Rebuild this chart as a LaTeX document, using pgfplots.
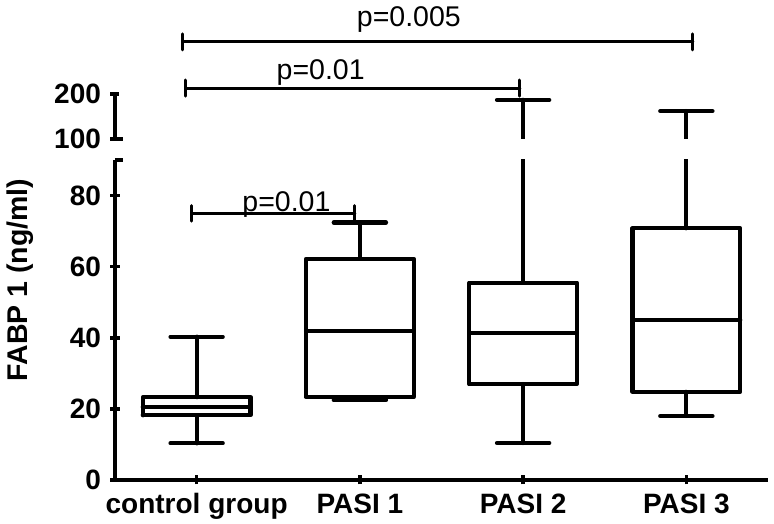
\documentclass[border=0pt]{standalone}
\usepackage{fontspec}
\setmainfont{Liberation Sans}
\usepackage{pgfplots}
\pgfplotsset{compat=1.18}

\pgfplotsset{
  fabp/.style={
    width=653pt, scale only axis,
    xmin=0.5, xmax=4.5,
    major tick length=9pt, tick align=outside,
    tick style={line width=3.5pt, black},
    /pgf/number format/assume math mode=true,
    ticklabel style={font=\fontsize{28}{30}\selectfont\bfseries},
    yticklabel style={xshift=-6pt},
  },
  nolinearrows/.style={
    axis line style={line width=3.5pt,-},
    every outer x axis line/.append style={-},
    every outer y axis line/.append style={-},
    every inner x axis line/.append style={-},
    every inner y axis line/.append style={-},
    x axis line style={-}, y axis line style={-},
  },
  bx/.style={black, line width=4.2pt, line cap=round, line join=round, solid, unbounded coords=jump},
  sig/.style={black, line width=3pt, line cap=round},
}
\tikzset{ptext/.style={anchor=base, font=\fontsize{28.5}{30}\selectfont}}

\begin{document}
\begin{tikzpicture}
\useasboundingbox (-115pt,-44pt) rectangle (659pt,480pt);

% lower part, 0 to 90
\begin{axis}[fabp, height=320pt,
    ymin=0, ymax=90,
    axis x line=bottom, axis y line=left, nolinearrows,
    xtick={1,2,3,4},
    xticklabels={control group, PASI 1, PASI 2, PASI 3},
    xticklabel style={inner sep=1pt, yshift=-8pt},
    ytick={0,20,40,60,80},
    extra y ticks={90}, extra y tick labels={},
    extra y tick style={tick align=inside, major tick length=8pt},
  ]
  % control group: whiskers 10.3 / 40.3, box 18.2 - 23.3, median 20.5
  \addplot[bx] coordinates {
    (0.67,18.2) (1.33,18.2) (1.33,23.3) (0.67,23.3) (0.67,18.2) (1,nan)
    (0.67,20.5) (1.33,20.5) (1,nan)
    (1,23.3) (1,40.3) (1,nan) (0.84,40.3) (1.16,40.3) (1,nan)
    (1,18.2) (1,10.3) (1,nan) (0.84,10.3) (1.16,10.3)
  };
  % PASI 1: whiskers 22.5 / 72.4, box 23.4 - 62.2, median 41.8
  \addplot[bx] coordinates {
    (1.67,23.4) (2.33,23.4) (2.33,62.2) (1.67,62.2) (1.67,23.4) (2,nan)
    (1.67,41.8) (2.33,41.8) (2,nan)
    (2,62.2) (2,72.4) (2,nan) (1.84,72.4) (2.16,72.4) (2,nan)
    (1.84,22.5) (2.16,22.5)
  };
  % PASI 2: whiskers 10.4 / 187, box 27.0 - 55.5, median 41.4
  \addplot[bx] coordinates {
    (2.67,27.0) (3.33,27.0) (3.33,55.5) (2.67,55.5) (2.67,27.0) (3,nan)
    (2.67,41.4) (3.33,41.4) (3,nan)
    (3,55.5) (3,187) (3,nan)
    (3,27.0) (3,10.4) (3,nan) (2.84,10.4) (3.16,10.4)
  };
  % PASI 3: whiskers 18.0 / 162, box 24.8 - 70.8, median 45.0
  \addplot[bx] coordinates {
    (3.67,24.8) (4.33,24.8) (4.33,70.8) (3.67,70.8) (3.67,24.8) (4,nan)
    (3.67,45.0) (4.33,45.0) (4,nan)
    (4,70.8) (4,162) (4,nan)
    (4,24.8) (4,18.0) (4,nan) (3.84,18.0) (4.16,18.0)
  };

  % control vs PASI 1
  \addplot[sig] coordinates {(0.97,75) (1.97,75)};
  \addplot[sig] coordinates {(0.97,72.8) (0.97,77.2)};
  \addplot[sig] coordinates {(1.97,72.8) (1.97,77.2)};
  \node[ptext] at (axis cs:1.55,75.6) {p=0.01};
\end{axis}

% upper part, 100 to 200
\begin{axis}[fabp, at={(0,341pt)}, height=45pt,
    ymin=100, ymax=200,
    axis x line=none, axis y line=left, nolinearrows,
    xtick=\empty,
    ytick={100,200},
    extra y ticks={100}, extra y tick labels={},
    extra y tick style={tick align=inside, major tick length=8pt},
  ]
  \addplot[bx] coordinates {(3,90) (3,187) (3,nan) (2.84,187) (3.16,187)};
  \addplot[bx] coordinates {(4,90) (4,162) (4,nan) (3.84,162) (4.16,162)};
\end{axis}

% significance brackets above
\begin{axis}[fabp, at={(0,341pt)}, height=45pt,
    ymin=100, ymax=200, hide axis, clip=false]
  \addplot[sig] coordinates {(0.914,315.6) (4.04,315.6)};
  \addplot[sig] coordinates {(0.914,297.8) (0.914,333.4)};
  \addplot[sig] coordinates {(4.04,297.8) (4.04,333.4)};
  \addplot[sig] coordinates {(0.933,213.3) (2.98,213.3)};
  \addplot[sig] coordinates {(0.933,195.5) (0.933,231.1)};
  \addplot[sig] coordinates {(2.98,195.5) (2.98,231.1)};
  \node[ptext] at (axis cs:2.30,349) {p=0.005};
  \node[ptext] at (axis cs:1.76,233) {p=0.01};
\end{axis}

\node[rotate=90, font=\fontsize{28.5}{30}\selectfont\bfseries] at (-95pt,200pt) {FABP 1 (ng/ml)};
\end{tikzpicture}
\end{document}
